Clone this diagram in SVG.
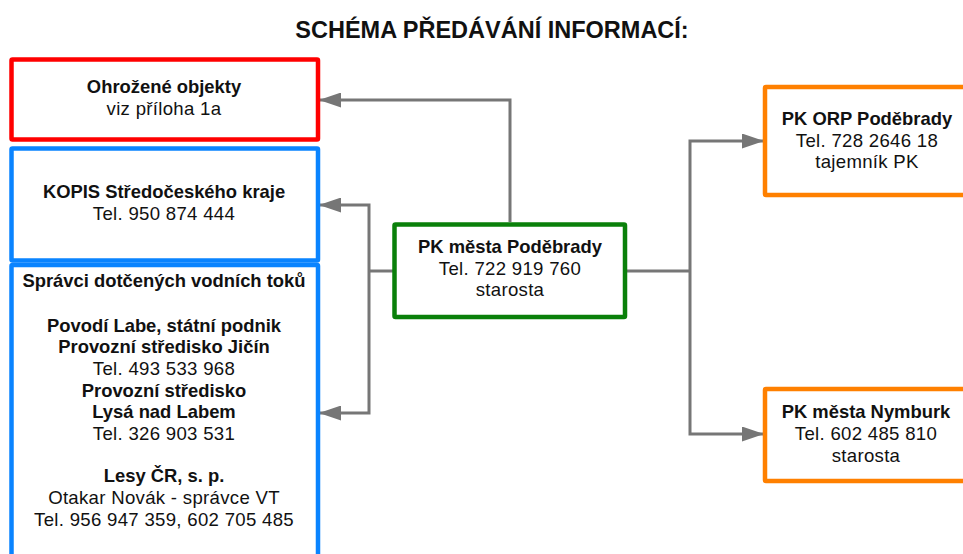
<svg xmlns="http://www.w3.org/2000/svg" width="963" height="554" viewBox="0 0 963 554">
<defs>
<marker id="arr" viewBox="0 0 22 15" refX="21" refY="7.5" markerWidth="22" markerHeight="15" markerUnits="userSpaceOnUse" orient="auto">
<path d="M0,0 L22,7.5 L0,15 Z" fill="#767676"/>
</marker>
<style>
text{font-family:"Liberation Sans",Arial,sans-serif;fill:#111;text-anchor:middle;font-size:18.6px;letter-spacing:0.3px}
.b{font-weight:bold;font-size:18.4px;letter-spacing:0}
.t{font-size:23.5px;font-weight:bold;letter-spacing:0}
rect{fill:#fff;stroke-width:4.5}
.red{stroke:#ff0000}
.blue{stroke:#0a84ff}
.green{stroke:#0a800a}
.orange{stroke:#ff8000}
.c{fill:none;stroke:#767676;stroke-width:3}
</style>
</defs>
<rect x="0" y="0" width="963" height="554" fill="#fff" stroke="none"/>
<text class="t" x="492" y="38">SCHÉMA PŘEDÁVÁNÍ INFORMACÍ:</text>
<g id="connectors">
<path class="c" d="M510,222 V100 H320" marker-end="url(#arr)"/>
<path class="c" d="M393,271 H369"/>
<path class="c" d="M369,271 V205 H320" marker-end="url(#arr)"/>
<path class="c" d="M369,271 V413 H320" marker-end="url(#arr)"/>
<path class="c" d="M627,271 H690"/>
<path class="c" d="M690,271 V141 H763" marker-end="url(#arr)"/>
<path class="c" d="M690,271 V434 H763" marker-end="url(#arr)"/>
</g>
<g id="ohrozene">
<rect class="red" x="11.5" y="59.5" width="306.5" height="80" rx="1"/>
<text class="b" x="164" y="93">Ohrožené objekty</text>
<text x="164" y="115">viz příloha 1a</text>
</g>
<g id="kopis">
<rect class="blue" x="11.5" y="148.5" width="306.5" height="112" rx="1"/>
<text class="b" x="164" y="198">KOPIS Středočeského kraje</text>
<text x="164" y="220">Tel. 950 874 444</text>
</g>
<g id="spravci">
<rect class="blue" x="11.5" y="265" width="306.5" height="300" rx="1"/>
<text class="b" x="164" y="287">Správci dotčených vodních toků</text>
<text class="b" x="164" y="332">Povodí Labe, státní podnik</text>
<text class="b" x="164" y="353">Provozní středisko Jičín</text>
<text x="164" y="375">Tel. 493 533 968</text>
<text class="b" x="164" y="397">Provozní středisko</text>
<text class="b" x="164" y="418">Lysá nad Labem</text>
<text x="164" y="440">Tel. 326 903 531</text>
<text class="b" x="164" y="482">Lesy ČR, s. p.</text>
<text x="164" y="504">Otakar Novák - správce VT</text>
<text x="164" y="526">Tel. 956 947 359, 602 705 485</text>
</g>
<g id="podebrady">
<rect class="green" x="394.5" y="224.5" width="230.5" height="92.5" rx="1"/>
<text class="b" x="510" y="253">PK města Poděbrady</text>
<text x="510" y="275">Tel. 722 919 760</text>
<text x="510" y="296">starosta</text>
</g>
<g id="orp">
<rect class="orange" x="765" y="87" width="210" height="108" rx="1"/>
<text class="b" x="867" y="125">PK ORP Poděbrady</text>
<text x="867" y="147">Tel. 728 2646 18</text>
<text x="867" y="168">tajemník PK</text>
</g>
<g id="nymburk">
<rect class="orange" x="765" y="389" width="210" height="92" rx="1"/>
<text class="b" x="866" y="418">PK města Nymburk</text>
<text x="866" y="440">Tel. 602 485 810</text>
<text x="866" y="462">starosta</text>
</g>
</svg>
